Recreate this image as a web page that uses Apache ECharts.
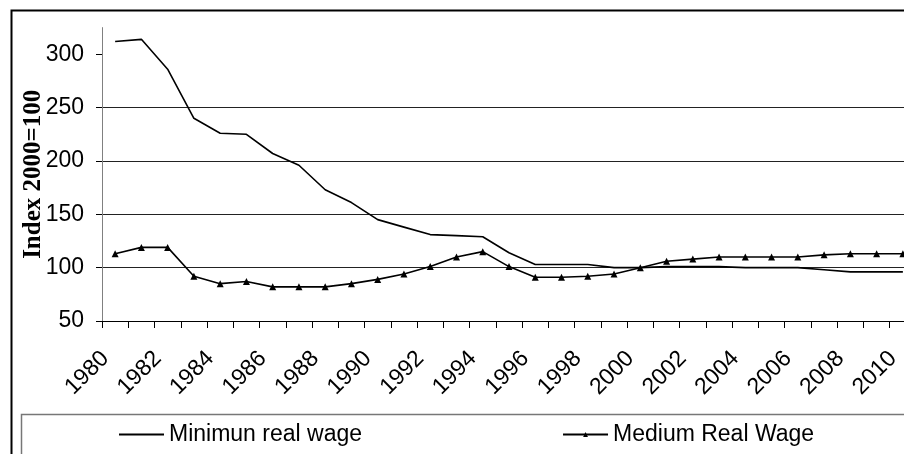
<!DOCTYPE html>
<html>
<head>
<meta charset="utf-8">
<script src="https://cdn.jsdelivr.net/npm/echarts@6/dist/echarts.min.js"></script>
<style>html,body{margin:0;padding:0;background:#fff;overflow:hidden;width:904px;height:454px}#c{width:940px;height:454px}</style>
</head>
<body>
<div id="c"></div>
<script>
const years = ['1980','1981','1982','1983','1984','1985','1986','1987','1988','1989','1990','1991','1992','1993','1994','1995','1996','1997','1998','1999','2000','2001','2002','2003','2004','2005','2006','2007','2008','2009','2010'];
const minimumRealWage = [312,314,286,240,226,225,207,196,173,161,145,138,131,130,129,114,103,103,103,100,100,101,101,101,100,100,100,98,96,96,96];
const mediumRealWage = [113,119,119,92,85,87,82,82,82,85,89,94,101,110,115,101,91,91,92,94,100,106,108,110,110,110,110,112,113,113,113];
const yTicks = [50,100,150,200,250,300];
const yAxisTitle = 'Index 2000=100';
const seriesNames = ['Minimun real wage','Medium Real Wage'];

const chart = echarts.init(document.getElementById('c'), null, {renderer:'canvas'});
chart.setOption({
  animation: false,
  backgroundColor: '#fff',
  textStyle: {fontFamily: 'Liberation Sans, Arial, sans-serif'},
  graphic: [
    {type:'rect', left: 9, top: 8, shape:{x:0,y:0,width:1000,height:1000}, style:{fill:'none', stroke:'#000', lineWidth:2}, z: 0},
    {type:'rect', left: 19, top: 412, shape:{x:0,y:0,width:1000,height:100}, style:{fill:'none', stroke:'#777', lineWidth:1.5}, z: 0}
  ],
  grid: {left: 102, top: 27.6, width: 814, height: 293.4, containLabel: false},
  legend: {
    left: 113, top: 418,
    itemWidth: 45, itemHeight: 6, itemGap: 200,
    textStyle: {fontSize: 23, color: '#000', fontFamily: 'Liberation Sans, Arial, sans-serif'},
    data: [
      {name: seriesNames[0], itemStyle: {opacity: 0}},
      {name: seriesNames[1]}
    ]
  },
  xAxis: {
    type: 'category',
    data: years,
    boundaryGap: true,
    axisLine: {show: true, lineStyle: {color: '#000', width: 1}},
    axisTick: {show: true, interval: 0, inside: false, length: 7, lineStyle: {color: '#000', width: 1}},
    axisLabel: {interval: 1, rotate: 45, fontSize: 23, color: '#000', margin: 24, padding: [0, 14, 0, 0]}
  },
  yAxis: {
    type: 'value',
    min: 50, max: 325, interval: 50,
    name: yAxisTitle,
    nameLocation: 'middle',
    nameGap: 56,
    nameMoveOverlap: false,
    nameTextStyle: {fontFamily: 'Liberation Serif, Times New Roman, serif', fontWeight: 'bold', fontSize: 25, color: '#000'},
    axisLine: {show: true, lineStyle: {color: '#808080', width: 1}},
    axisTick: {show: true, inside: false, length: 6, lineStyle: {color: '#000', width: 1}, customValues: yTicks},
    axisLabel: {fontSize: 23, color: '#000', margin: 18, customValues: yTicks},
    splitLine: {show: true, showMinLine: false, showMaxLine: false, lineStyle: {color: '#222', width: 1}}
  },
  series: [
    {
      name: seriesNames[0], type: 'line', data: minimumRealWage,
      symbol: 'none', lineStyle: {color: '#000', width: 1.6}, itemStyle: {color: '#000'}
    },
    {
      name: seriesNames[1], type: 'line', data: mediumRealWage,
      symbol: 'triangle', symbolSize: 7, showSymbol: true,
      lineStyle: {color: '#000', width: 1.6}, itemStyle: {color: '#000'}
    }
  ]
});
</script>
</body>
</html>
